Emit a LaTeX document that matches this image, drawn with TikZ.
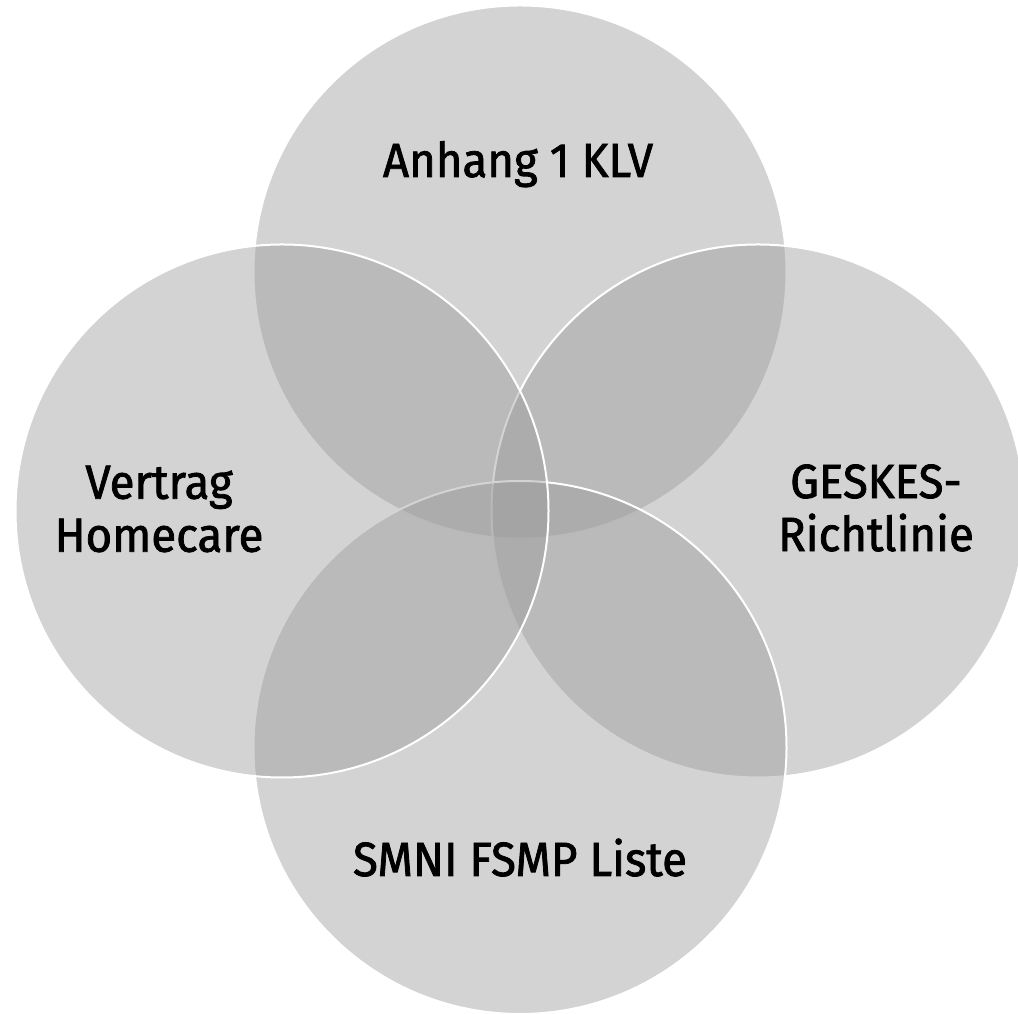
\documentclass[tikz,border=0pt]{standalone}
\usepackage{fontspec}
\setmainfont[FakeStretch=0.95, FakeBold=1.6]{Fira Sans}
\definecolor{vennfill}{gray}{0.6}
\begin{document}
\begin{tikzpicture}[x=1pt, y=1pt,
  venn/.style={circle, draw=white, line width=2pt, inner sep=0pt, minimum size=533pt, fill=vennfill, fill opacity=0.43},
  venntext/.style={align=center, text=black, font=\fontsize{48}{53}\selectfont}]
\useasboundingbox (0,0) rectangle (1018,1014);
\clip (0,0) rectangle (1018,1014);
\node[venn] (1) at (520,742) {};
\node[venn] (2) at (758,503) {};
\node[venn] (3) at (520,266.5) {};
\node[venn] (4) at (282,503) {};
\node[venntext, anchor=base] (klv) at (518,837) {Anhang 1 KLV};
\node[venntext] (geskes) at (876,506) {GESKES-\\Richtlinie};
\node[venntext, anchor=base] (smni) at (520,138) {SMNI FSMP Liste};
\node[venntext] (homecare) at (159,505) {Vertrag\\Homecare};
\end{tikzpicture}
\end{document}
